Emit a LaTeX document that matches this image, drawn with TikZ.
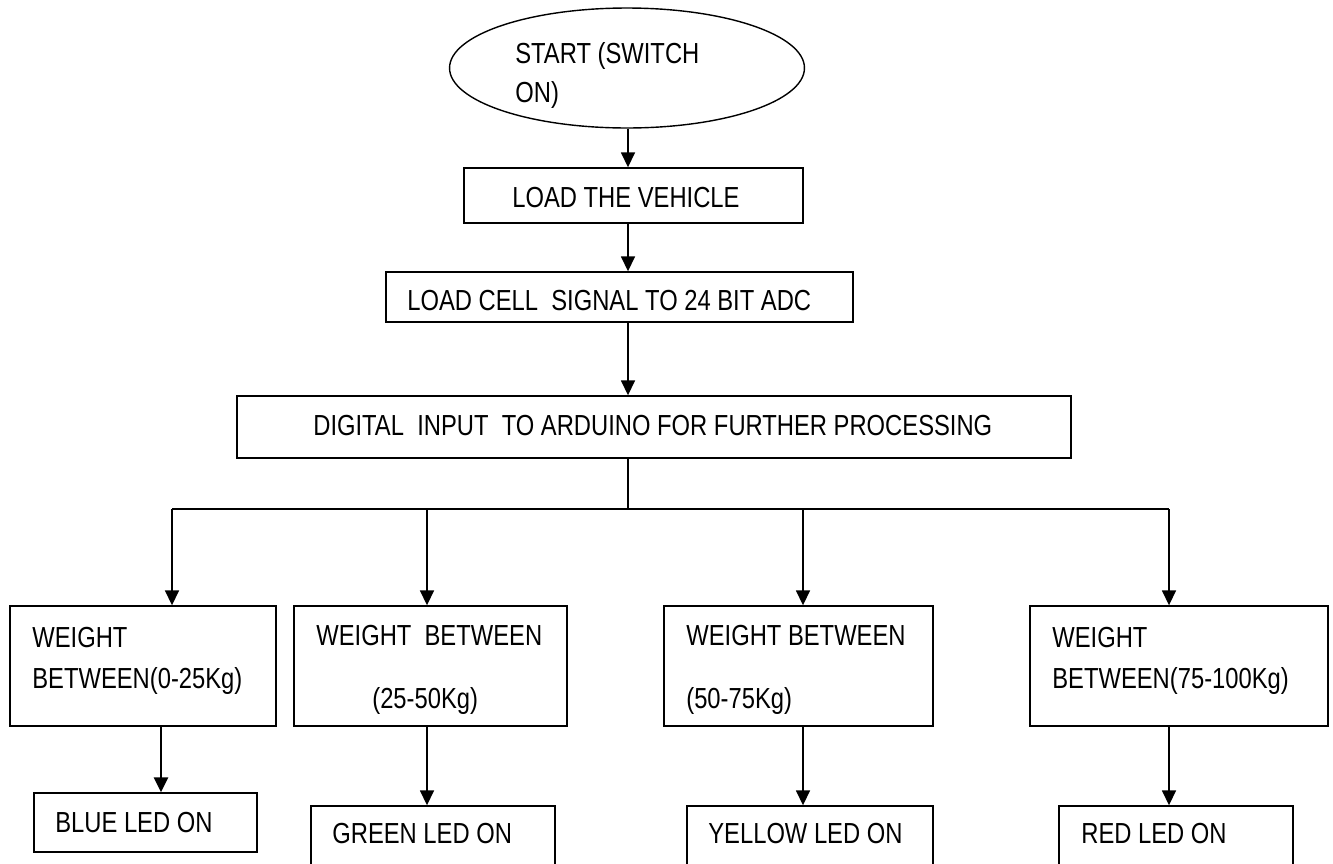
\documentclass[tikz,border=0pt]{standalone}
\usepackage{fontspec}
\setmainfont{Liberation Sans}[FakeStretch=0.82]
\usetikzlibrary{arrows.meta}
\usetikzlibrary{shapes.geometric}
\tikzset{>={Triangle[length=0.3cm,width=0.28cm]}}
\tikzstyle{stepbox}=[draw=black,line width=0.8pt,rectangle,inner sep=0pt]
\tikzstyle{startoval}=[draw=black,line width=0.8pt,ellipse,inner sep=0pt]
\tikzstyle{boxtext}=[anchor=base west,inner sep=0pt,font=\fontsize{16.5}{19}\selectfont]
\tikzstyle{flowline}=[draw=black,line width=0.9pt]

\begin{document}
\begin{tikzpicture}[x=0.02cm,y=-0.02cm]
  \useasboundingbox (0,0) rectangle (1333,863);
  \clip (0,0) rectangle (1333,863);

  % boxes
  \node[startoval,minimum width=7.1cm,minimum height=2.4cm] (start) at (627,68) {};
  \node[stepbox,minimum width=6.78cm,minimum height=1.1cm] (load) at (633.5,195.5) {};
  \node[stepbox,minimum width=9.34cm,minimum height=1cm] (cell) at (619.5,297) {};
  \node[stepbox,minimum width=16.68cm,minimum height=1.24cm] (digital) at (654,427) {};
  \node[stepbox,minimum width=5.32cm,minimum height=2.4cm] (w1) at (143,666) {};
  \node[stepbox,minimum width=5.46cm,minimum height=2.4cm] (w2) at (430.5,666) {};
  \node[stepbox,minimum width=5.38cm,minimum height=2.4cm] (w3) at (798.5,666) {};
  \node[stepbox,minimum width=5.96cm,minimum height=2.4cm] (w4) at (1179,666) {};
  \node[stepbox,minimum width=4.46cm,minimum height=1.18cm] (blue) at (145.5,822.5) {};
  \node[stepbox,minimum width=4.88cm,minimum height=1.22cm] (green) at (433,836.5) {};
  \node[stepbox,minimum width=4.92cm,minimum height=1.22cm] (yellow) at (810,836.5) {};
  \node[stepbox,minimum width=4.68cm,minimum height=1.22cm] (red) at (1176,836.5) {};

  % texts
  \node[boxtext] (t0a) at (515,63) {START (SWITCH};
  \node[boxtext] (t0b) at (515,102) {ON)};
  \node[boxtext] (t1) at (512,207) {LOAD THE VEHICLE};
  \node[boxtext] (t2) at (407,310) {LOAD CELL\ \ SIGNAL TO 24 BIT ADC};
  \node[boxtext] (t3) at (313,435) {DIGITAL\ \ INPUT\ \ TO ARDUINO FOR FURTHER PROCESSING};
  \node[boxtext] (t4a) at (32,647) {WEIGHT};
  \node[boxtext] (t4b) at (32,688) {BETWEEN(0-25Kg)};
  \node[boxtext] (t5a) at (316,645) {WEIGHT\ \ BETWEEN};
  \node[boxtext] (t5b) at (372,708) {(25-50Kg)};
  \node[boxtext] (t6a) at (686,645) {WEIGHT BETWEEN};
  \node[boxtext] (t6b) at (686,708) {(50-75Kg)};
  \node[boxtext] (t7a) at (1052,647) {WEIGHT};
  \node[boxtext] (t7b) at (1052,688) {BETWEEN(75-100Kg)};
  \node[boxtext] (t8) at (55,832) {BLUE LED ON};
  \node[boxtext] (t9) at (332,843) {GREEN LED ON};
  \node[boxtext] (t10) at (708,843) {YELLOW LED ON};
  \node[boxtext] (t11) at (1081,843) {RED LED ON};

  % connectors
  \coordinate (spine) at (628,509);
  \coordinate (a1) at (172,509);
  \coordinate (a2) at (427,509);
  \coordinate (a3) at (803,509);
  \coordinate (a4) at (1169,509);
  \coordinate (d1) at (161,0);

  \draw[flowline,->] (start.south -| spine) -- (load.north -| spine);
  \draw[flowline,->] (load.south -| spine) -- (cell.north -| spine);
  \draw[flowline,->] (cell.south -| spine) -- (digital.north -| spine);
  \draw[flowline] (digital.south -| spine) -- (spine);
  \draw[flowline] (a1) -- (a4);
  \foreach \a/\w in {a1/w1,a2/w2,a3/w3,a4/w4}
    \draw[flowline,->] (\a) -- (\w.north -| \a);

  \draw[flowline,line width=1.4pt,->] (w1.south -| d1) -- (blue.north -| d1);
  \draw[flowline,->] (w2.south -| a2) -- (green.north -| a2);
  \draw[flowline,->] (w3.south -| a3) -- (yellow.north -| a3);
  \draw[flowline,->] (w4.south -| a4) -- (red.north -| a4);
\end{tikzpicture}
\end{document}
